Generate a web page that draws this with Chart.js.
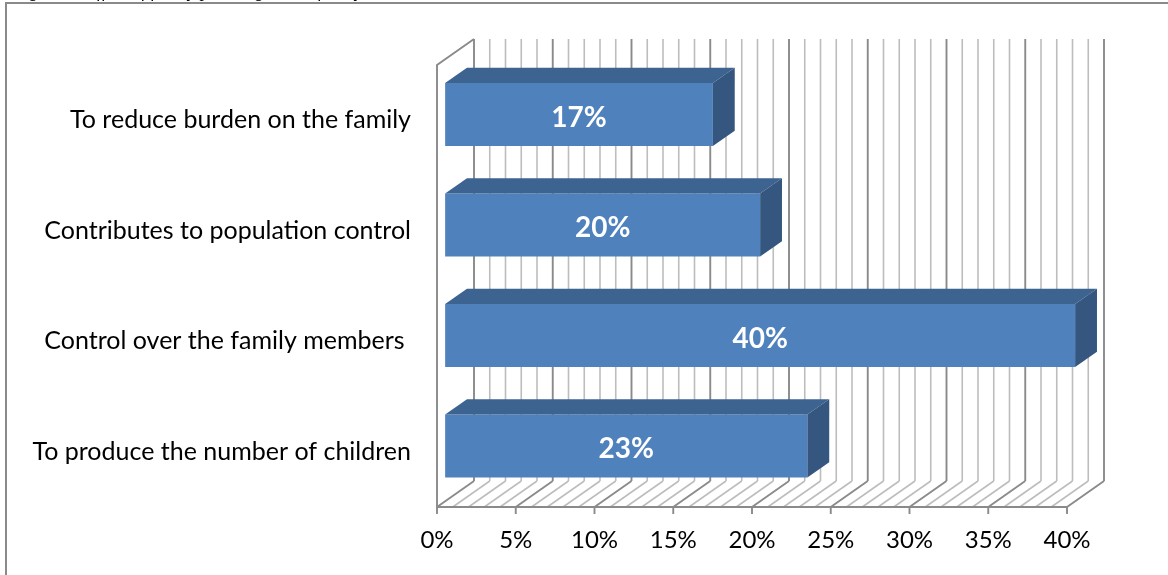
<!DOCTYPE html>
<html>
<head>
<meta charset="utf-8">
<script src="https://cdn.jsdelivr.net/npm/chart.js@4.4.1/dist/chart.umd.min.js"></script>
<style>
  html, body { margin: 0; padding: 0; background: #fff; overflow: hidden; }
  #wrap { position: relative; width: 1168px; height: 575px; }
  canvas { display: block; }
</style>
</head>
<body>
<div id="wrap"><canvas id="chart" width="1168" height="575"></canvas></div>
<script>
// Reasons given, share of respondents (%)
const categories = [
  'To reduce burden on the family',
  'Contributes to population control',
  'Control over the family members ',
  'To produce the number of children'
];
const shares = [17, 20, 40, 23];
const tickValues = [0, 5, 10, 15, 20, 25, 30, 35, 40];
const tickLabels = ['0%', '5%', '10%', '15%', '20%', '25%', '30%', '35%', '40%'];
const caption = 'Figure 6: Effect of family planning on the family';

// Oblique projection of the depth axis, in pixels
const DEPTH = { dx: 37, dy: -26 };
const BAR_FRONT = 0.22;   // bar front face, as a share of the depth
const BAR_BACK = 0.81;    // bar back face

const FONT = 'Lato, "Open Sans", sans-serif';

const line = (ctx, x1, y1, x2, y2) => {
  ctx.beginPath(); ctx.moveTo(x1, y1); ctx.lineTo(x2, y2); ctx.stroke();
};

// Frame, walls, floor and gridlines of the 3-D plot box
const box3d = {
  id: 'box3d',
  beforeDraw(chart) {
    const ctx = chart.ctx;
    ctx.save();
    ctx.font = 'italic 18px "Liberation Serif", serif';
    ctx.fillStyle = '#000';
    ctx.textBaseline = 'alphabetic';
    ctx.fillText(caption, 14, -3);
    ctx.strokeStyle = '#8a8a8a';
    ctx.lineWidth = 2;
    ctx.beginPath();
    ctx.moveTo(6, 600); ctx.lineTo(6, 3); ctx.lineTo(1200, 3);
    ctx.stroke();
    ctx.restore();
  },
  beforeDatasetsDraw(chart) {
    const { ctx, chartArea: a, scales: { x } } = chart;
    const { dx, dy } = DEPTH;
    ctx.save();
    ctx.lineCap = 'butt';
    const max = x.max;
    for (let v = 0; v <= max; v += 1) {
      const px = x.getPixelForValue(v);
      const major = v % 5 === 0;
      ctx.strokeStyle = major ? '#8a8a8a' : '#bdbdbd';
      ctx.lineWidth = major ? 1.9 : 1.6;
      line(ctx, px + dx, a.top + dy, px + dx, a.bottom + dy);   // back wall
      line(ctx, px, a.bottom, px + dx, a.bottom + dy);          // floor hatch
    }
    // side wall outline
    const x0 = x.getPixelForValue(0);
    ctx.strokeStyle = '#8a8a8a';
    ctx.lineWidth = 1.9;
    ctx.beginPath();
    ctx.moveTo(x0 + dx, a.top + dy);
    ctx.lineTo(x0, a.top);
    ctx.lineTo(x0, a.bottom);
    ctx.stroke();
    // floor front edge and major ticks
    const xMax = x.getPixelForValue(max);
    line(ctx, x0, a.bottom, xMax, a.bottom);
    tickValues.forEach(v => {
      const px = x.getPixelForValue(v);
      line(ctx, px, a.bottom, px, a.bottom + 7);
    });
    ctx.restore();

    // push the bars into the depth of the box
    ctx.save();
    ctx.translate(DEPTH.dx * BAR_FRONT, DEPTH.dy * BAR_FRONT);
  },
  afterDatasetsDraw(chart) {
    const ctx = chart.ctx;
    const meta = chart.getDatasetMeta(0);
    const bdx = DEPTH.dx * (BAR_BACK - BAR_FRONT);
    const bdy = DEPTH.dy * (BAR_BACK - BAR_FRONT);
    meta.data.forEach((bar, i) => {
      const { x, y, base, height } = bar.getProps(['x', 'y', 'base', 'height'], true);
      const top = y - height / 2, bottom = y + height / 2;
      // top face
      ctx.fillStyle = '#3d6391';
      ctx.beginPath();
      ctx.moveTo(base, top); ctx.lineTo(x, top);
      ctx.lineTo(x + bdx, top + bdy); ctx.lineTo(base + bdx, top + bdy);
      ctx.closePath(); ctx.fill();
      // end face
      ctx.fillStyle = '#34567f';
      ctx.beginPath();
      ctx.moveTo(x, top); ctx.lineTo(x + bdx, top + bdy);
      ctx.lineTo(x + bdx, bottom + bdy); ctx.lineTo(x, bottom);
      ctx.closePath(); ctx.fill();
      // value label
      ctx.fillStyle = '#ffffff';
      ctx.font = 'bold 28px ' + FONT;
      ctx.textAlign = 'center';
      ctx.textBaseline = 'middle';
      ctx.fillText(shares[i] + '%', (base + x) / 2, y + 3);
    });
    ctx.restore();
  }
};

new Chart(document.getElementById('chart'), {
  type: 'bar',
  data: {
    labels: categories,
    datasets: [{
      data: shares,
      backgroundColor: '#4f81bd',
      borderWidth: 0,
      barPercentage: 0.57,
      categoryPercentage: 1.0,
      clip: false
    }]
  },
  options: {
    indexAxis: 'y',
    responsive: false,
    animation: false,
    events: [],
    devicePixelRatio: 1,
    layout: { padding: { top: 65, right: 101, bottom: 0, left: 0 } },
    plugins: { legend: { display: false }, tooltip: { enabled: false } },
    scales: {
      x: {
        min: 0,
        max: 40,
        afterFit(scale) { scale.height = 68; },
        afterBuildTicks(scale) { scale.ticks = tickValues.map(v => ({ value: v })); },
        grid: { display: false },
        border: { display: false },
        ticks: {
          padding: 11,
          color: '#000',
          font: { family: FONT, size: 24 },
          callback: (v, i) => tickLabels[i]
        }
      },
      y: {
        afterFit(scale) { scale.width = 437; },
        grid: { display: false },
        border: { display: false },
        ticks: {
          padding: 18,
          color: '#000',
          font: { family: FONT, size: 25 }
        }
      }
    }
  },
  plugins: [box3d]
});
</script>
</body>
</html>
